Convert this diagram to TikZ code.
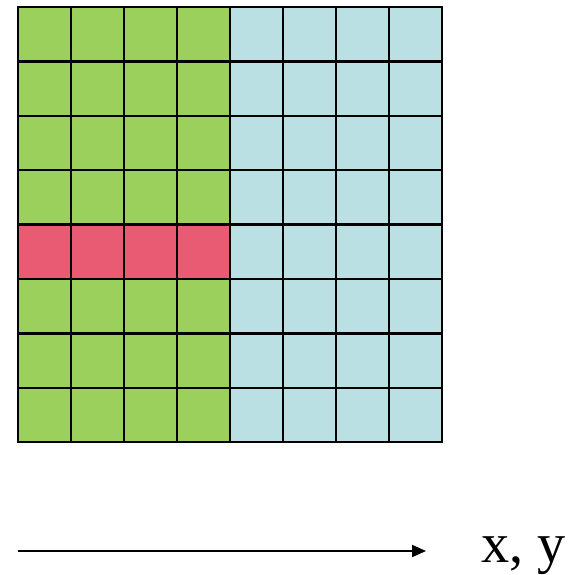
\documentclass[tikz,border=0pt]{standalone}
\usepackage{fontspec}
\setmainfont{Liberation Serif}
\usetikzlibrary{arrows.meta,positioning}
\definecolor{leaf}{HTML}{9BD05D}
\definecolor{ice}{HTML}{BBE0E3}
\definecolor{rose}{HTML}{E95B72}
\definecolor{ink}{HTML}{000000}

\begin{document}
\begin{tikzpicture}[x=0.02cm,y=-0.02cm,cell/.style={draw=ink,line width=1.4pt},arrow/.style={-{Triangle[length=0.28cm,width=0.24cm]},line width=1.1pt,ink}]
 \useasboundingbox (0,0) rectangle (570,575);
 % grid of cells: left half green, right half blue, one red row
 \foreach \i in {0,...,7}{
  \foreach \j in {0,...,7}{
   \ifnum\i<4
    \ifnum\j=4 \def\tone{rose}\else\def\tone{leaf}\fi
   \else
    \def\tone{ice}
   \fi
   \filldraw[cell,fill=\tone] (18+53*\i,7+54.4*\j) rectangle ++(53,54.4);
  }
 }
 \coordinate (start) at (18,551);
 \coordinate (end) at (426,551);
 \draw[arrow] (start)--(end);
 \node[anchor=base west,inner sep=0pt,font=\fontsize{32pt}{36pt}\selectfont] (lbl) at (481,562) {x, y};
\end{tikzpicture}
\end{document}
